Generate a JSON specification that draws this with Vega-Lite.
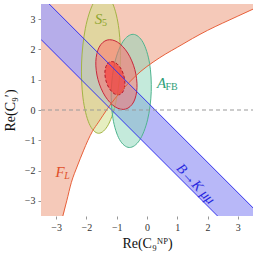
{
 "$schema": "https://vega.github.io/schema/vega-lite/v6.json",
 "width": 212, "height": 212,
 "autosize": "none",
 "padding": {"left": 41, "top": 4, "right": 5, "bottom": 41},
 "config": {"view": {"stroke": null}, "font": "Liberation Serif"},
 "datasets": {
  "flArea": [
   {"x": -3.5, "y": -3.5}, {"x": -2.78, "y": -3.5}, {"x": -2.65, "y": -3.0}, {"x": -2.5, "y": -2.4},
   {"x": -2.3, "y": -1.85}, {"x": -2.1, "y": -1.35}, {"x": -1.95, "y": -1.0}, {"x": -1.8, "y": -0.7},
   {"x": -1.6, "y": -0.4}, {"x": -1.3, "y": 0.05}, {"x": -1.0, "y": 0.45}, {"x": -0.6, "y": 0.9},
   {"x": -0.2, "y": 1.28}, {"x": 0.2, "y": 1.58}, {"x": 0.6, "y": 1.84}, {"x": 1.0, "y": 2.07},
   {"x": 1.5, "y": 2.36}, {"x": 2.0, "y": 2.63}, {"x": 2.5, "y": 2.87}, {"x": 3.0, "y": 3.1}, {"x": 3.5, "y": 3.33}
  ],
  "flCurve": [
   {"x": -2.78, "y": -3.5}, {"x": -2.65, "y": -3.0}, {"x": -2.5, "y": -2.4},
   {"x": -2.3, "y": -1.85}, {"x": -2.1, "y": -1.35}, {"x": -1.95, "y": -1.0}, {"x": -1.8, "y": -0.7},
   {"x": -1.6, "y": -0.4}, {"x": -1.3, "y": 0.05}, {"x": -1.0, "y": 0.45}, {"x": -0.6, "y": 0.9},
   {"x": -0.2, "y": 1.28}, {"x": 0.2, "y": 1.58}, {"x": 0.6, "y": 1.84}, {"x": 1.0, "y": 2.07},
   {"x": 1.5, "y": 2.36}, {"x": 2.0, "y": 2.63}, {"x": 2.5, "y": 2.87}, {"x": 3.0, "y": 3.1}, {"x": 3.5, "y": 3.33}
  ],
  "band": [
   {"x": -3.5, "y": 2.33, "hi": 3.77}, {"x": 3.5, "y": -4.67, "hi": -3.23}
  ],
  "bandLines": [
   {"edge": "lo", "x": -3.5, "y": 2.33}, {"edge": "lo", "x": 3.5, "y": -4.67},
   {"edge": "hi", "x": -3.5, "y": 3.77}, {"edge": "hi", "x": 3.5, "y": -3.23}
  ],
  "s5": [
   {"i": 0, "x": -1.440, "y": 3.830}, {"i": 1, "x": -1.770, "y": 3.532}, {"i": 2, "x": -2.034, "y": 2.699},
   {"i": 3, "x": -2.160, "y": 1.552}, {"i": 4, "x": -2.114, "y": 0.400}, {"i": 5, "x": -1.909, "y": -0.449},
   {"i": 6, "x": -1.600, "y": -0.769}, {"i": 7, "x": -1.270, "y": -0.472}, {"i": 8, "x": -1.006, "y": 0.361},
   {"i": 9, "x": -0.880, "y": 1.508}, {"i": 10, "x": -0.926, "y": 2.660}, {"i": 11, "x": -1.131, "y": 3.509}
  ],
  "afb": [
   {"i": 0, "x": -0.455, "y": 2.499}, {"i": 1, "x": -0.793, "y": 2.260}, {"i": 2, "x": -1.059, "y": 1.584},
   {"i": 3, "x": -1.180, "y": 0.653}, {"i": 4, "x": -1.124, "y": -0.285}, {"i": 5, "x": -0.906, "y": -0.977},
   {"i": 6, "x": -0.585, "y": -1.239}, {"i": 7, "x": -0.247, "y": -1.000}, {"i": 8, "x": 0.019, "y": -0.324},
   {"i": 9, "x": 0.140, "y": 0.607}, {"i": 10, "x": 0.084, "y": 1.545}, {"i": 11, "x": -0.134, "y": 2.237}
  ],
  "red2": [
   {"i": 0, "x": -1.315, "y": 2.310}, {"i": 1, "x": -1.579, "y": 2.076}, {"i": 2, "x": -1.690, "y": 1.599},
   {"i": 3, "x": -1.619, "y": 1.007}, {"i": 4, "x": -1.384, "y": 0.459}, {"i": 5, "x": -1.050, "y": 0.101},
   {"i": 6, "x": -0.705, "y": 0.030}, {"i": 7, "x": -0.441, "y": 0.264}, {"i": 8, "x": -0.330, "y": 0.741},
   {"i": 9, "x": -0.401, "y": 1.333}, {"i": 10, "x": -0.636, "y": 1.881}, {"i": 11, "x": -0.970, "y": 2.239}
  ],
  "red1": [
   {"i": 0, "x": -1.206, "y": 1.594}, {"i": 1, "x": -1.335, "y": 1.481}, {"i": 2, "x": -1.390, "y": 1.253},
   {"i": 3, "x": -1.357, "y": 0.971}, {"i": 4, "x": -1.244, "y": 0.709}, {"i": 5, "x": -1.082, "y": 0.539},
   {"i": 6, "x": -0.914, "y": 0.506}, {"i": 7, "x": -0.785, "y": 0.619}, {"i": 8, "x": -0.730, "y": 0.847},
   {"i": 9, "x": -0.764, "y": 1.130}, {"i": 10, "x": -0.876, "y": 1.391}, {"i": 11, "x": -1.038, "y": 1.561}
  ],
  "lblS": [{"t": "S", "x": -1.60, "y": 3.0}],
  "lblS5": [{"t": "5", "x": -1.60, "y": 3.0}],
  "lblA": [{"t": "A", "x": 0.48, "y": 0.88}],
  "lblAFB": [{"t": "FB", "x": 0.48, "y": 0.88}],
  "lblF": [{"t": "F", "x": -2.87, "y": -2.05}],
  "lblFL": [{"t": "L", "x": -2.87, "y": -2.05}],
  "lblB": [{"t": "B→K μμ", "x": 1.6, "y": -2.45}],
  "zero": [{"x": -3.5, "x2": 3.5, "y": 0}]
 },
 "encoding": {
  "x": {"field": "x", "type": "quantitative", "scale": {"domain": [-3.5, 3.5], "nice": false, "zero": false},
   "axis": {"values": [-3, -2, -1, 0, 1, 2, 3], "format": "d", "domain": false, "grid": false, "tickSize": 3, "tickColor": "#999", "tickWidth": 1,
    "labelFont": "Liberation Serif", "labelFontSize": 10, "labelColor": "#333", "labelPadding": 3,
    "title": "Re(C₉ᴺᴾ)", "titleFont": "Liberation Serif", "titleFontSize": 14, "titleFontWeight": "normal", "titleColor": "#111", "titlePadding": 4}},
  "y": {"field": "y", "type": "quantitative", "scale": {"domain": [-3.5, 3.5], "nice": false, "zero": false},
   "axis": {"values": [-3, -2, -1, 0, 1, 2, 3], "format": "d", "domain": false, "grid": false, "tickSize": 3, "tickColor": "#999", "tickWidth": 1,
    "labelFont": "Liberation Serif", "labelFontSize": 10, "labelColor": "#333", "labelPadding": 3,
    "title": "Re(C₉′)", "titleFont": "Liberation Serif", "titleFontSize": 14, "titleFontWeight": "normal", "titleColor": "#111", "titlePadding": 7}}
 },
 "layer": [
  {
   "data": {"name": "flArea"},
   "mark": {"type": "area", "color": "#f5c9b9", "opacity": 1, "interpolate": "monotone", "clip": true},
   "encoding": {"y2": {"datum": 3.5}}
  },
  {
   "data": {"name": "band"},
   "mark": {"type": "area", "color": "#a6a6f6", "opacity": 0.8, "clip": true},
   "encoding": {"y2": {"field": "hi"}}
  },
  {
   "data": {"name": "s5"},
   "mark": {"type": "line", "interpolate": "cardinal-closed", "fill": "#cfe08c", "fillOpacity": 0.55, "stroke": "#a3b444", "strokeWidth": 1, "clip": true},
   "encoding": {"order": {"field": "i", "type": "quantitative"}}
  },
  {
   "data": {"name": "afb"},
   "mark": {"type": "line", "interpolate": "cardinal-closed", "fill": "#8ad6b8", "fillOpacity": 0.5, "stroke": "#4fb48f", "strokeWidth": 1, "clip": true},
   "encoding": {"order": {"field": "i", "type": "quantitative"}}
  },
  {
   "data": {"name": "red2"},
   "mark": {"type": "line", "interpolate": "cardinal-closed", "fill": "#ff6a6a", "fillOpacity": 0.5, "stroke": "#c8283c", "strokeWidth": 1, "clip": true},
   "encoding": {"order": {"field": "i", "type": "quantitative"}}
  },
  {
   "data": {"name": "red1"},
   "mark": {"type": "line", "interpolate": "cardinal-closed", "fill": "#ff2424", "fillOpacity": 0.55, "stroke": "#b01828", "strokeWidth": 1, "strokeDash": [3, 2], "clip": true},
   "encoding": {"order": {"field": "i", "type": "quantitative"}}
  },
  {
   "data": {"name": "flCurve"},
   "mark": {"type": "line", "color": "#e8603a", "strokeWidth": 1, "interpolate": "monotone", "clip": true},
   "encoding": {}
  },
  {
   "data": {"name": "bandLines"},
   "mark": {"type": "line", "color": "#3535ee", "strokeWidth": 1, "clip": true},
   "encoding": {"detail": {"field": "edge"}}
  },
  {
   "data": {"name": "zero"},
   "mark": {"type": "rule", "color": "#999999", "strokeWidth": 1, "strokeDash": [4, 3]},
   "encoding": {"x2": {"field": "x2"}}
  },
  {
   "data": {"name": "lblS"},
   "mark": {"type": "text", "font": "Liberation Serif", "fontStyle": "italic", "fontSize": 15, "color": "#8ea52e", "align": "center", "baseline": "middle"},
   "encoding": {"text": {"field": "t"}}
  },
  {
   "data": {"name": "lblS5"},
   "mark": {"type": "text", "font": "Liberation Serif", "fontSize": 10, "color": "#8ea52e", "align": "center", "baseline": "middle", "dx": 6, "dy": 4},
   "encoding": {"text": {"field": "t"}}
  },
  {
   "data": {"name": "lblA"},
   "mark": {"type": "text", "font": "Liberation Serif", "fontStyle": "italic", "fontSize": 15, "color": "#2e9e78", "align": "center", "baseline": "middle"},
   "encoding": {"text": {"field": "t"}}
  },
  {
   "data": {"name": "lblAFB"},
   "mark": {"type": "text", "font": "Liberation Serif", "fontSize": 10, "color": "#2e9e78", "align": "left", "baseline": "middle", "dx": 4, "dy": 4},
   "encoding": {"text": {"field": "t"}}
  },
  {
   "data": {"name": "lblF"},
   "mark": {"type": "text", "font": "Liberation Serif", "fontStyle": "italic", "fontSize": 15, "color": "#e0502a", "align": "center", "baseline": "middle"},
   "encoding": {"text": {"field": "t"}}
  },
  {
   "data": {"name": "lblFL"},
   "mark": {"type": "text", "font": "Liberation Serif", "fontStyle": "italic", "fontSize": 10, "color": "#e0502a", "align": "center", "baseline": "middle", "dx": 7, "dy": 4},
   "encoding": {"text": {"field": "t"}}
  },
  {
   "data": {"name": "lblB"},
   "mark": {"type": "text", "font": "Liberation Serif", "fontStyle": "italic", "fontSize": 14, "color": "#2828e0", "align": "center", "baseline": "middle", "angle": 47},
   "encoding": {"text": {"field": "t"}}
  }
 ]
}
